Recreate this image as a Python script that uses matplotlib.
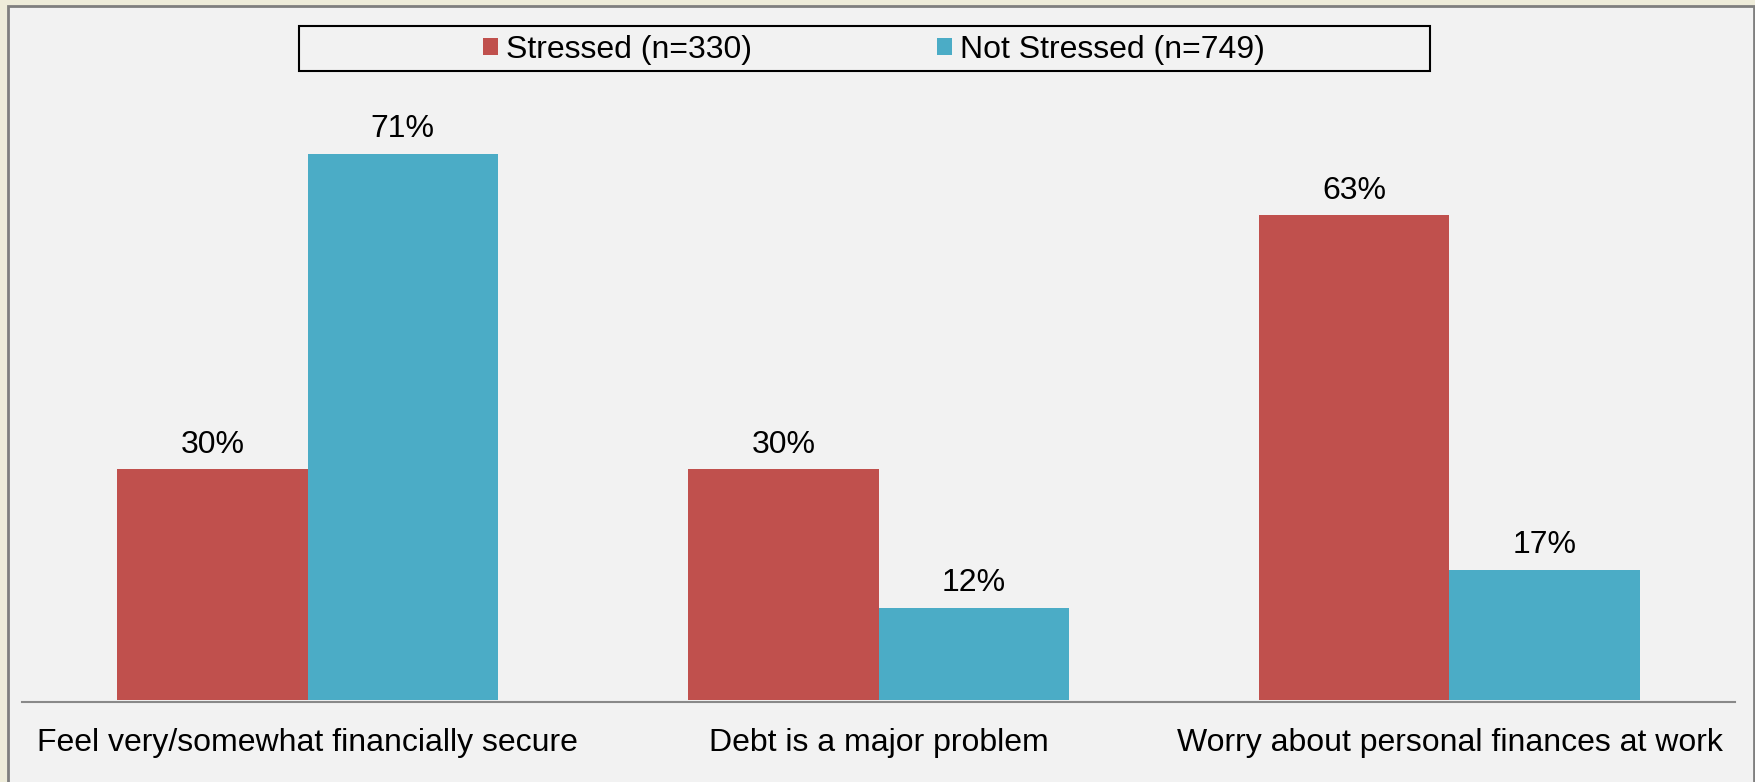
import matplotlib
matplotlib.use('Agg')
import numpy as np
import matplotlib.pyplot as plt
from matplotlib.patches import Rectangle, Patch

plt.rcParams['font.family'] = ['Liberation Sans', 'DejaVu Sans']

# Dades
categories = ['Feel very/somewhat financially secure', 'Debt is a major problem',
              'Worry about personal finances at work']
stressed = [30, 30, 63]
not_stressed = [71, 12, 17]
series_names = ['Stressed (n=330)', 'Not Stressed (n=749)']
colors = ['#C0504D', '#4BACC6']

W, H = 1755, 782
fig = plt.figure(figsize=(W / 100, H / 100), dpi=100)
fig.patch.set_facecolor('#EEECDA')

# Panell gris amb vora
panel = Rectangle((8 / W, -0.05), (1754 - 8) / W, 1 - 6 / H + 0.05,
                  transform=fig.transFigure, facecolor='#F2F2F2',
                  edgecolor='#7F7F7F', linewidth=2, zorder=-5)
fig.patches.append(panel)

y_base, y_top = 702, 90
ax = fig.add_axes([22 / W, (H - y_base) / H, 1713 / W, (y_base - y_top) / H])
ax.set_facecolor('none')
ax.set_zorder(2)

x = np.arange(len(categories))
bw = 1 / 3
b1 = ax.bar(x - bw / 2, stressed, bw, color=colors[0])
b2 = ax.bar(x + bw / 2, not_stressed, bw, color=colors[1])

ax.bar_label(b1, labels=[f'{v}%' for v in stressed], padding=7, fontsize=23)
ax.bar_label(b2, labels=[f'{v}%' for v in not_stressed], padding=7, fontsize=23)

ax.set_xlim(-0.5, 2.5)
ax.set_ylim(-0.2, (y_base - y_top) / 7.70 - 0.2)
ax.set_xticks(x)
ax.set_xticklabels(categories, fontsize=23)
ax.tick_params(axis='x', length=0, pad=19)
ax.set_yticks([])
for s in ['top', 'right', 'left']:
    ax.spines[s].set_visible(False)
ax.spines['bottom'].set_color('#898989')
ax.spines['bottom'].set_linewidth(1.5)

# Llegenda amb marc propi
frame = Rectangle((299 / W, 1 - 70.5 / H), (1430 - 299) / W, 44.8 / H,
                  transform=fig.transFigure, facecolor='none',
                  edgecolor='black', linewidth=1.5, zorder=3)
fig.patches.append(frame)
handles = [Patch(facecolor=c, edgecolor='none') for c in colors]
fig.legend(handles, series_names, loc='center left',
           bbox_to_anchor=(483 / W, 1 - 50 / H), ncol=2, frameon=False,
           fontsize=23, handlelength=0.47, handleheight=0.47,
           handletextpad=0.25, columnspacing=5.8, borderpad=0,
           borderaxespad=0)

plt.savefig('out.png', dpi=100, facecolor=fig.get_facecolor())
